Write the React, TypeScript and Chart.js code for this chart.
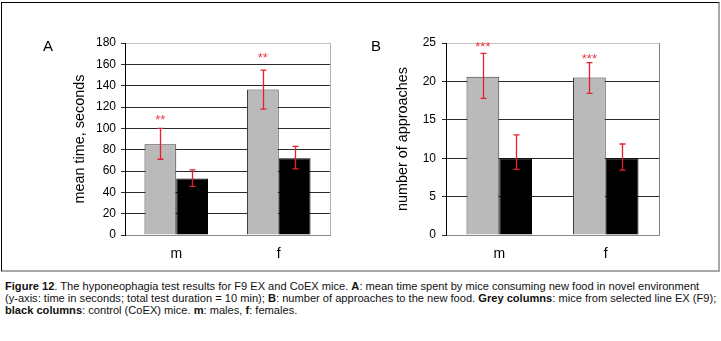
import React, { useEffect, useRef } from 'react';
import { Chart, registerables } from 'chart.js';

Chart.register(...registerables);

const FONT = '"Liberation Sans", Arial, Helvetica, sans-serif';

// Shared categories / series
const categories = ['m', 'f'];
const seriesLabels = ['EX (F9)', 'CoEX'];

// Panel A: mean time, seconds
const timeEX = [85, 136.5];
const timeCoEX = [53, 72];
const timeEXHigh = [100, 154.5];
const timeEXLow = [71, 118];
const timeCoEXHigh = [61, 83];
const timeCoEXLow = [45.5, 62];
const timeStars = ['**', '**'];
const timeStarPos = [111, 169];
const timeMax = 180;
const timeStep = 20;

// Panel B: number of approaches
const apprEX = [20.6, 20.5];
const apprCoEX = [10, 10];
const apprEXHigh = [23.65, 22.45];
const apprEXLow = [17.8, 18.45];
const apprCoEXHigh = [13.05, 11.85];
const apprCoEXLow = [8.55, 8.45];
const apprStars = ['***', '***'];
const apprStarPos = [25, 23.4];
const apprMax = 25;
const apprStep = 5;

type Panel = {
  letter: string;
  yTitle: string;
  max: number;
  step: number;
  series: number[][];
  high: number[][];
  low: number[][];
  stars: string[];
  starPos: number[];
  width: number;
  yAxisWidth: number;
  padRight: number;
  titleOffset: number;
  tickPad: number;
  catPct: number;
  rightBorder: string;
  letterX: number;
};

const panelA: Panel = {
  letter: 'A',
  yTitle: 'mean time, seconds',
  max: timeMax,
  step: timeStep,
  series: [timeEX, timeCoEX],
  high: [timeEXHigh, timeCoEXHigh],
  low: [timeEXLow, timeCoEXLow],
  stars: timeStars,
  starPos: timeStarPos,
  width: 360,
  yAxisWidth: 125,
  padRight: 30,
  titleOffset: 71,
  tickPad: 5,
  catPct: 0.62,
  rightBorder: '#b0b0b0',
  letterX: 48,
};

const panelB: Panel = {
  letter: 'B',
  yTitle: 'number of approaches',
  max: apprMax,
  step: apprStep,
  series: [apprEX, apprCoEX],
  high: [apprEXHigh, apprCoEXHigh],
  low: [apprEXLow, apprCoEXLow],
  stars: apprStars,
  starPos: apprStarPos,
  width: 361,
  yAxisWidth: 86,
  padRight: 62,
  titleOffset: 34,
  tickPad: 6,
  catPct: 0.615,
  rightBorder: '#808080',
  letterX: 16,
};

function makeChart(canvas: HTMLCanvasElement, p: Panel) {
  const decor = {
    id: 'decor',
    afterDatasetsDraw(chart: any) {
      const ctx = chart.ctx;
      const ys = chart.scales.y;
      const area = chart.chartArea;
      ctx.save();
      // plot-area right border
      ctx.strokeStyle = p.rightBorder;
      ctx.lineWidth = 1;
      ctx.beginPath();
      ctx.moveTo(Math.round(area.right) + 0.5, area.top);
      ctx.lineTo(Math.round(area.right) + 0.5, area.bottom);
      ctx.stroke();
      // error bars
      ctx.strokeStyle = '#e3202b';
      ctx.lineWidth = 1.3;
      p.series.forEach((_, i) => {
        const meta = chart.getDatasetMeta(i);
        meta.data.forEach((el: any, j: number) => {
          const x = Math.round(el.x) + 0.5;
          const yh = ys.getPixelForValue(p.high[i][j]);
          const yl = ys.getPixelForValue(p.low[i][j]);
          ctx.beginPath();
          ctx.moveTo(x, yh);
          ctx.lineTo(x, yl);
          ctx.moveTo(x - 3, yh);
          ctx.lineTo(x + 3, yh);
          ctx.moveTo(x - 3, yl);
          ctx.lineTo(x + 3, yl);
          ctx.stroke();
        });
      });
      // significance stars
      ctx.fillStyle = '#ee3b46';
      ctx.font = `13px ${FONT}`;
      ctx.textAlign = 'center';
      ctx.textBaseline = 'alphabetic';
      const meta0 = chart.getDatasetMeta(0);
      meta0.data.forEach((el: any, j: number) => {
        const y = ys.getPixelForValue(p.starPos[j]);
        ctx.fillText(p.stars[j], el.x, y + 7.5);
      });
      // panel letter
      ctx.fillStyle = '#000';
      ctx.font = `15px ${FONT}`;
      ctx.textBaseline = 'middle';
      ctx.fillText(p.letter, p.letterX, 47);
      ctx.restore();
    },
  };

  return new Chart(canvas, {
    type: 'bar',
    data: {
      labels: categories,
      datasets: [
        {
          label: seriesLabels[0],
          data: p.series[0],
          backgroundColor: '#bababa',
          borderColor: '#3c3c3c',
          borderWidth: 1,
          borderSkipped: 'bottom',
          categoryPercentage: p.catPct,
          barPercentage: 1,
        },
        {
          label: seriesLabels[1],
          data: p.series[1],
          backgroundColor: '#000000',
          borderColor: '#000000',
          borderWidth: 1,
          categoryPercentage: p.catPct,
          barPercentage: 1,
        },
      ],
    },
    options: {
      responsive: false,
      animation: false,
      devicePixelRatio: 1,
      layout: { padding: { left: 0, right: p.padRight, top: 43, bottom: 10 } },
      plugins: { legend: { display: false }, tooltip: { enabled: false } },
      scales: {
        x: {
          grid: { display: false, drawTicks: false },
          border: { display: true, color: '#8a8a8a' },
          ticks: { font: { family: FONT, size: 14 }, color: '#000', padding: 11 },
          afterFit: (s: any) => {
            s.height = 25;
          },
        },
        y: {
          min: 0,
          max: p.max,
          ticks: {
            stepSize: p.step,
            font: { family: FONT, size: 12 },
            color: '#000',
            padding: p.tickPad,
          },
          grid: {
            color: (c: any) =>
              c.tick && c.tick.value === p.max ? '#c4c4c4' : c.tick && c.tick.value === 0 ? '#8a8a8a' : '#2a2a2a',
            tickColor: '#2a2a2a',
            tickLength: 4,
          },
          border: { color: '#000' },
          title: {
            display: true,
            text: p.yTitle,
            color: '#000',
            font: { family: FONT, size: 14.4 },
            padding: { top: p.titleOffset, bottom: 0 },
          },
          afterFit: (s: any) => {
            s.width = p.yAxisWidth;
          },
        },
      },
    },
    plugins: [decor],
  } as any);
}

function Panel({ p, left }: { p: Panel; left: number }) {
  const ref = useRef<HTMLCanvasElement>(null);
  useEffect(() => {
    if (!ref.current) return;
    const c = makeChart(ref.current, p);
    return () => c.destroy();
  }, [p]);
  return (
    <canvas
      ref={ref}
      width={p.width}
      height={270}
      style={{ position: 'absolute', left, top: 0, width: p.width, height: 270 }}
    />
  );
}

export default function App() {
  return (
    <div
      style={{
        position: 'fixed',
        left: 0,
        top: 0,
        width: 721,
        height: 341,
        background: '#fff',
        overflow: 'hidden',
      }}
    >
      <div
        style={{
          position: 'absolute',
          left: 1,
          top: 2,
          width: 719,
          height: 270,
          boxSizing: 'border-box',
          borderTop: '1px solid #000',
          borderLeft: '1px solid #000',
          borderRight: '2px solid #a8a8a8',
          borderBottom: '2px solid #a8a8a8',
        }}
      />
      <Panel p={panelA} left={0} />
      <Panel p={panelB} left={360} />
      <div
        style={{
          position: 'absolute',
          left: 5,
          top: 281,
          fontFamily: FONT,
          fontSize: 11.1,
          lineHeight: '11.8px',
          color: '#111',
          whiteSpace: 'nowrap',
        }}
      >
        <b>Figure 12</b>. The hyponeophagia test results for F9 EX and CoEX mice. <b>A</b>: mean time spent by mice
        consuming new food in novel environment
        <br />
        (y-axis: time in seconds; total test duration = 10 min); <b>B</b>: number of approaches to the new food.{' '}
        <b>Grey columns</b>: mice from selected line EX (F9);
        <br />
        <b>black columns</b>: control (CoEX) mice. <b>m</b>: males, <b>f</b>: females.
      </div>
    </div>
  );
}
